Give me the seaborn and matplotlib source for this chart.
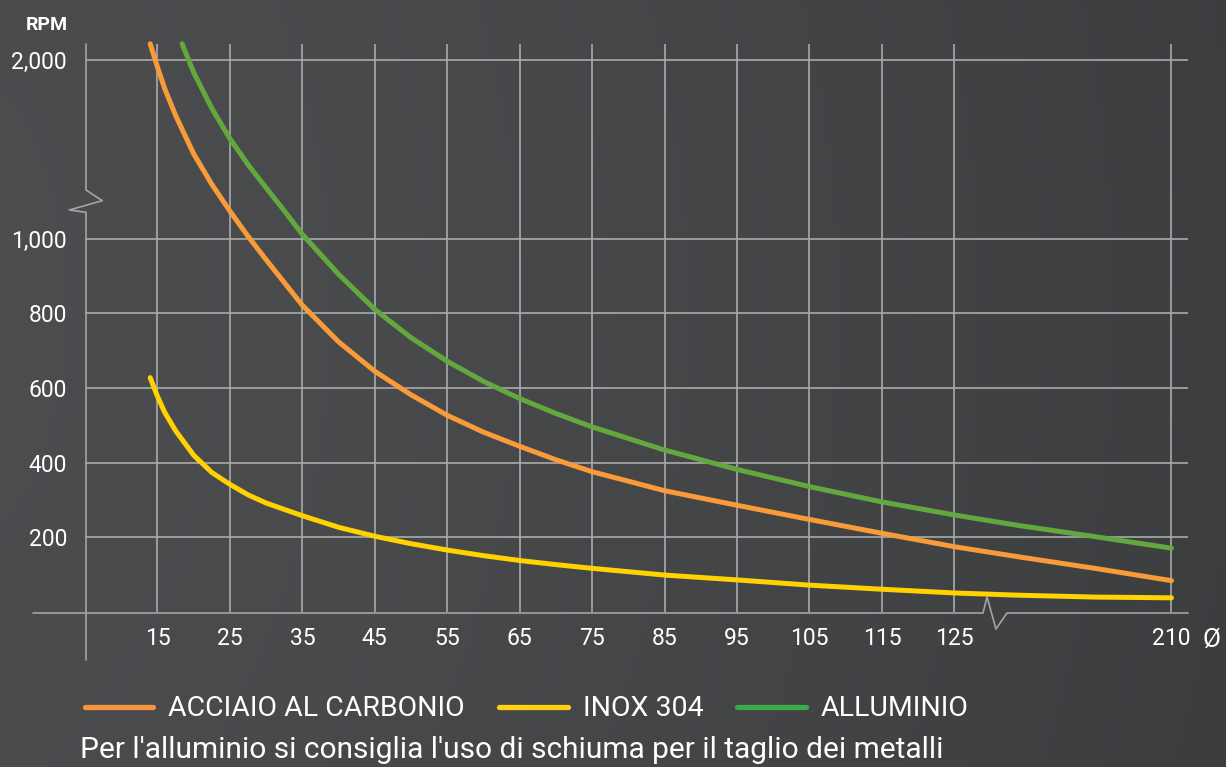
import numpy as np
import pandas as pd
import matplotlib
matplotlib.use('Agg')
import matplotlib.pyplot as plt
from matplotlib.lines import Line2D
import seaborn as sns

# --- data ---
x_acciaio = [14, 15, 16, 17.5, 20, 22.5, 25, 27.5, 30, 32.5, 35, 40, 45, 50, 55, 60, 65, 70, 75,
             85, 95, 105, 115, 125, 150, 180, 210]
acciaio = [2090, 1960, 1840, 1690, 1475, 1305, 1155, 1014, 944, 883, 822, 724, 645, 582, 527, 482,
           444, 408, 376, 325, 286, 248, 211, 175, 148, 117, 84]

x_inox = [14, 15, 16, 17.5, 20, 22.5, 25, 27.5, 30, 35, 40, 45, 50, 55, 60, 65, 70, 75,
          85, 95, 105, 115, 125, 150, 180, 210]
inox = [628, 578, 535, 486, 420, 374, 342, 314, 292, 258, 227, 203, 183, 166, 151, 138, 127, 117,
        99, 86, 72, 61, 51, 45, 40, 38]

x_alluminio = [18.4, 20, 22.5, 25, 27.5, 30, 32.5, 35, 40, 45, 50, 55, 60, 65, 70, 75,
               85, 95, 105, 115, 125, 150, 180, 210]
alluminio = [2090, 1930, 1730, 1560, 1415, 1285, 1157, 1025, 905, 811, 735, 672, 618, 572, 532, 496,
             434, 382, 336, 295, 260, 232, 202, 171]

series = ['ACCIAIO AL CARBONIO', 'INOX 304', 'ALLUMINIO']
line_colors = ['#f89b38', '#ffd200', '#63a83e']
legend_colors = ['#f7963e', '#fcd116', '#3aab48']

x_ticks = [15, 25, 35, 45, 55, 65, 75, 85, 95, 105, 115, 125, 210]
y_ticks = [200, 400, 600, 800, 1000, 2000]
y_labels = ['200', '400', '600', '800', '1,000', '2,000']

df = pd.concat([
    pd.DataFrame({'d': x_acciaio, 'rpm': acciaio, 'mat': series[0]}),
    pd.DataFrame({'d': x_inox, 'rpm': inox, 'mat': series[1]}),
    pd.DataFrame({'d': x_alluminio, 'rpm': alluminio, 'mat': series[2]}),
])

# broken axes: compress y above 1000 and x above 125
KY = 0.4793
KX = 0.3526


def yfwd(y):
    y = np.asarray(y, dtype=float)
    return np.where(y <= 1000, y, 1000 + (y - 1000) * KY)


def yinv(y):
    y = np.asarray(y, dtype=float)
    return np.where(y <= 1000, y, 1000 + (y - 1000) / KY)


def xfwd(x):
    x = np.asarray(x, dtype=float)
    return np.where(x <= 125, x, 125 + (x - 125) * KX)


def xinv(x):
    x = np.asarray(x, dtype=float)
    return np.where(x <= 125, x, 125 + (x - 125) / KX)


sns.set_style('dark')
plt.rcParams['font.family'] = ['Roboto', 'DejaVu Sans']

W, H = 1226, 767
fig = plt.figure(figsize=(W / 100, H / 100), dpi=100)


def px(x, y):
    return x / W, 1 - y / H


# background gradient
bg = fig.add_axes([0, 0, 1, 1], zorder=-10)
gx = np.linspace(0, 1, 300)
gy = np.linspace(0, 1, 200)
GX, GY = np.meshgrid(gx, gy)
val = 0.295 - 0.055 * GX ** 1.4 - 0.012 * (GY - 0.4) ** 2
img = np.dstack([val, val + 0.004, val + 0.012])
bg.imshow(np.clip(img, 0, 1), aspect='auto', extent=[0, 1, 0, 1])
bg.axis('off')

l, b = px(85, 612)
r, t = px(1188, 44)
ax = fig.add_axes([l, b, r - l, t - b])
ax.set_facecolor('none')
ax.set_xscale('function', functions=(xfwd, xinv))
ax.set_yscale('function', functions=(yfwd, yinv))

sns.lineplot(data=df, x='d', y='rpm', hue='mat', palette=line_colors,
             hue_order=series, sort=False, estimator=None, ax=ax,
             linewidth=3.6, legend=False)
for ln in ax.lines:
    ln.set_clip_on(False)
    ln.set_solid_capstyle('round')
    ln.set_solid_joinstyle('round')

ax.set_xlim(5, float(xinv(157.25)))
ax.set_ylim(0, float(yinv(1522)))
ax.set_xticks(x_ticks)
ax.set_xticklabels([str(v) for v in x_ticks])
ax.set_yticks(y_ticks)
ax.set_yticklabels(y_labels)
ax.minorticks_off()
ax.grid(True, color='#a9aaac', linewidth=1.2)
ax.set_axisbelow(True)
for s in ax.spines.values():
    s.set_visible(False)
ax.tick_params(axis='both', length=0, colors='white', labelsize=16.5)
ax.tick_params(axis='y', pad=13)
ax.tick_params(axis='x', pad=11)
ax.set_xlabel('')
ax.set_ylabel('')

# axis lines with break marks
axis_col = '#a3a4a6'
yaxis_pts = [(86, 44), (86, 190), (102.3, 200.7), (69.3, 210), (86, 212.3), (86, 660)]
xaxis_pts = [(33, 613), (983, 613), (987, 597), (996, 629), (1007, 613), (1188, 613)]
for pts in (yaxis_pts, xaxis_pts):
    xs, ys = zip(*[px(*p) for p in pts])
    fig.add_artist(Line2D(xs, ys, transform=fig.transFigure, color=axis_col, lw=1.2))

fig.text(*px(47, 25), 'RPM', color='white', fontsize=14, fontweight='bold',
         ha='center', va='center')
fig.text(*px(1211, 640), 'Ø', color='white', fontsize=19,
         ha='center', va='center')

handles = [Line2D([0], [0], color=c, lw=3.8, solid_capstyle='round') for c in legend_colors]
leg = fig.legend(handles, series, loc='center left', bbox_to_anchor=px(85, 709),
                 ncol=3, frameon=False, fontsize=20.5, handlelength=2.4,
                 handletextpad=0.53, columnspacing=1.2, borderpad=0,
                 borderaxespad=0)
for txt in leg.get_texts():
    txt.set_color('white')

fig.text(*px(80, 750), "Per l'alluminio si consiglia l'uso di schiuma per il taglio dei metalli",
         color='white', fontsize=21.5, ha='left', va='center')

fig.savefig('out.png', dpi=100)
